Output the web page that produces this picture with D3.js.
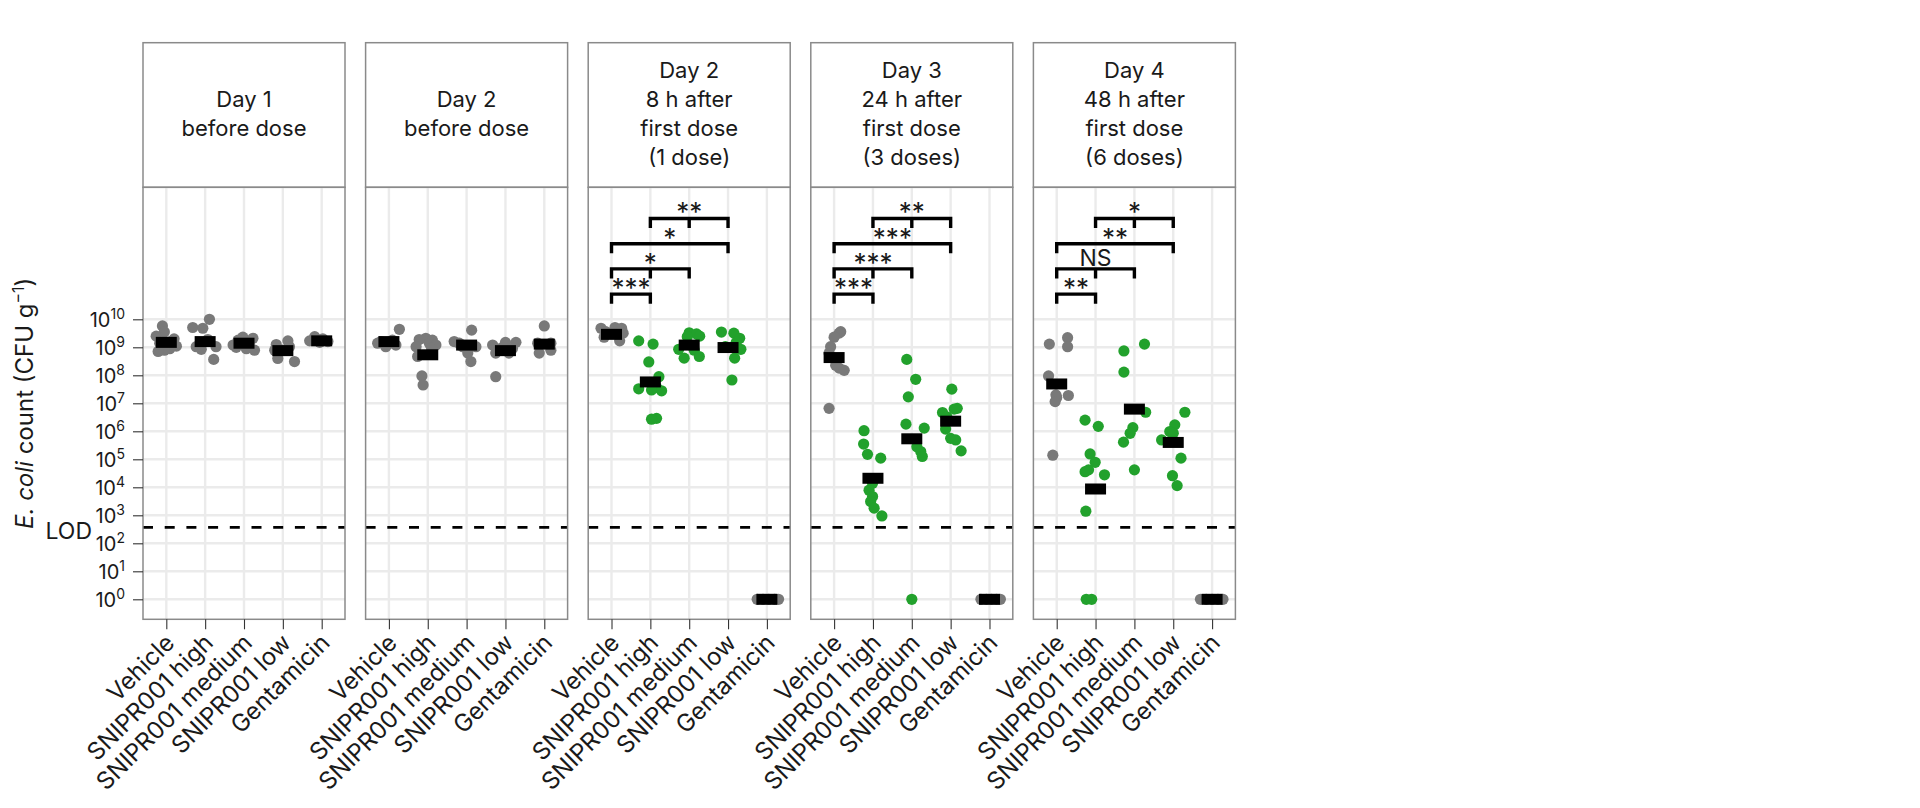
<!DOCTYPE html>
<html><head><meta charset="utf-8">
<script src="https://cdn.jsdelivr.net/npm/d3@7"></script>
<style>
body{margin:0;background:#fff}
svg{display:block}
text{font-family:Inter,"Noto Sans",sans-serif;fill:#1a1a1a}
</style>
</head><body>
<svg id="chart" width="1920" height="808"></svg>
<script>
// ---------------- DATA ----------------
const categories = ["Vehicle", "SNIPR001 high", "SNIPR001 medium", "SNIPR001 low", "Gentamicin"];
const panelTitles = [
  ["Day 1", "before dose"],
  ["Day 2", "before dose"],
  ["Day 2", "8 h after", "first dose", "(1 dose)"],
  ["Day 3", "24 h after", "first dose", "(3 doses)"],
  ["Day 4", "48 h after", "first dose", "(6 doses)"]
];
const treatedPanel = [false, false, true, true, true];
const treatedGroups = ["SNIPR001 high", "SNIPR001 medium", "SNIPR001 low"];
const yTickValues = [1, 1e1, 1e2, 1e3, 1e4, 1e5, 1e6, 1e7, 1e8, 1e9, 1e10];
const yTickExponents = ["0", "1", "2", "3", "4", "5", "6", "7", "8", "9", "10"];
const LOD = 370;

// CFU per g, one array per group (Vehicle, high, medium, low, Gentamicin)
const day1Values = [
  [5.8e9, 3.5e9, 2.5e9, 2.0e9, 1.6e9, 1.4e9, 1.1e9, 8.9e8, 7.9e8, 7.1e8],
  [1.0e10, 5.1e9, 4.8e9, 1.9e9, 1.05e9, 1.05e9, 8.5e8, 3.7e8],
  [2.3e9, 2.1e9, 1.8e9, 1.2e9, 1.05e9, 1.0e9, 8.9e8, 7.9e8],
  [1.7e9, 1.26e9, 1.05e9, 7.9e8, 7.9e8, 4.0e8, 3.1e8],
  [2.4e9, 2.0e9, 1.7e9, 1.6e9, 1.5e9]
];
const day1Jitter = [
  [-0.1, -0.05, -0.26, 0.2, 0.1, -0.17, 0.26, 0.09, -0.05, -0.21],
  [0.11, -0.32, -0.06, 0.07, -0.23, 0.28, -0.1, 0.22],
  [-0.03, 0.23, -0.15, -0.28, 0.13, -0.2, 0.06, 0.27],
  [0.13, -0.17, 0.17, 0, -0.21, -0.13, 0.3],
  [-0.18, 0.03, -0.31, 0.16, -0.05]
];
const day1Means = [1.5e9, 1.6e9, 1.4e9, 7.6e8, 1.7e9];

const day2PreValues = [
  [4.4e9, 1.8e9, 1.6e9, 1.4e9, 1.4e9, 1.2e9, 1.05e9],
  [2.1e9, 1.9e9, 1.8e9, 1.4e9, 1.2e9, 1.05e9, 9.1e8, 4.7e8, 9.5e7, 4.5e7],
  [4.1e9, 1.6e9, 1.4e9, 1.05e9, 1.05e9, 6.2e8, 3.1e8],
  [1.5e9, 1.5e9, 1.2e9, 9.1e8, 9.1e8, 6.2e8, 6.2e8, 8.9e7],
  [5.8e9, 1.4e9, 1.4e9, 7.9e8, 6.2e8]
];
const day2PreJitter = [
  [0.27, 0.09, -0.2, 0.01, -0.29, 0.18, -0.08],
  [-0.05, -0.22, 0.12, 0.04, 0.21, -0.3, 0.1, -0.26, -0.15, -0.12],
  [0.13, -0.32, -0.19, -0.1, 0.24, 0.03, 0.11],
  [0, 0.27, -0.33, -0.12, 0.18, 0.09, -0.25, -0.25],
  [0, -0.17, 0.17, 0.17, -0.13]
];
const day2PreMeans = [1.6e9, 5.4e8, 1.2e9, 7.6e8, 1.3e9];

const day2H8Values = [
  [5.1e9, 4.8e9, 4.8e9, 3.6e9, 3.2e9, 3.2e9, 2.3e9, 1.7e9],
  [1.7e9, 1.3e9, 3.0e8, 8.9e7, 3.7e7, 3.3e7, 3.0e7, 2.8e7, 2.9e6, 2.7e6],
  [3.3e9, 3.0e9, 2.5e9, 2.4e9, 8.5e8, 7.9e8, 4.7e8, 4.1e8],
  [3.5e9, 3.2e9, 2.1e9, 1.5e9, 1.05e9, 8.5e8, 4.1e8, 6.8e7],
  [1, 1, 1, 1, 1]
];
const day2H8Jitter = [
  [0.09, -0.27, 0.26, -0.15, 0.3, 0, -0.19, 0.21],
  [-0.3, 0.07, -0.04, 0.22, 0.16, -0.3, 0.03, 0.29, 0.16, 0.03],
  [0, 0.19, 0.27, -0.05, -0.27, 0.13, 0.26, -0.13],
  [-0.17, 0.15, 0.3, 0.21, -0.07, 0.33, 0.17, 0.1],
  [-0.25, -0.1, 0.05, 0.2, 0.3]
];
const day2H8Means = [2.9e9, 5.8e7, 1.2e9, 9.8e8, 1];

const day3Values = [
  [3.6e9, 3.2e9, 2.3e9, 1.05e9, 6.2e8, 2.3e8, 1.8e8, 1.5e8, 6.6e6],
  [1.05e6, 3.5e5, 1.5e5, 1.1e5, 1.4e4, 7.9e3, 4.7e3, 3.1e3, 1.8e3, 9.5e2],
  [3.7e8, 7.2e7, 1.7e7, 1.8e6, 1.3e6, 2.8e5, 1.9e5, 1.26e5, 1],
  [3.2e7, 6.6e6, 6.2e6, 4.7e6, 3.3e6, 1.2e6, 5.6e5, 4.9e5, 2.0e5],
  [1, 1, 1, 1, 1]
];
const day3Jitter = [
  [0.17, 0.13, 0, -0.09, -0.13, 0.04, 0.13, 0.26, -0.13],
  [-0.23, -0.24, -0.14, 0.2, -0.01, -0.1, -0.01, -0.06, 0.03, 0.23],
  [-0.13, 0.1, -0.09, -0.15, 0.32, 0.13, 0.23, 0.27, 0],
  [0.03, 0.17, 0.09, -0.21, -0.1, -0.13, 0, 0.13, 0.27],
  [-0.22, -0.08, 0.05, 0.18, 0.28]
];
const day3Means = [4.3e8, 2.1e4, 5.4e5, 2.3e6, 1];

const day4Values = [
  [2.2e9, 1.3e9, 1.05e9, 9.5e7, 2.0e7, 1.9e7, 1.6e7, 1.15e7, 1.4e5],
  [2.5e6, 1.5e6, 1.55e5, 7.8e4, 4.2e4, 3.6e4, 2.8e4, 1.4e3, 1, 1],
  [1.3e9, 7.4e8, 1.3e8, 4.8e6, 1.35e6, 8.5e5, 4.1e5, 4.2e4],
  [4.8e6, 1.7e6, 9.8e5, 8.5e5, 4.9e5, 1.1e5, 2.6e4, 1.15e4],
  [1, 1, 1, 1, 1]
];
const day4Jitter = [
  [0.28, -0.19, 0.28, -0.21, -0.02, 0.3, 0, -0.04, -0.1],
  [-0.27, 0.07, -0.14, -0.01, -0.18, -0.27, 0.23, -0.25, -0.24, -0.1],
  [0.26, -0.27, -0.27, 0.29, -0.04, -0.11, -0.28, 0],
  [0.3, 0.04, -0.09, 0, -0.3, 0.2, -0.02, 0.1],
  [-0.3, -0.15, 0, 0.15, 0.28]
];
const day4Means = [4.9e7, 8.7e3, 6.2e6, 4.0e5, 1];

// significance brackets (panels 3-5)
const comparisons = [
  ["Vehicle", "SNIPR001 high"],
  ["Vehicle", "SNIPR001 medium"],
  ["Vehicle", "SNIPR001 low"],
  ["SNIPR001 high", "SNIPR001 low"]
];
const bracketLevels = [7.9e10, 6.3e11, 5.0e12, 4.0e13];
const sigDay2H8 = ["***", "*", "*", "**"];
const sigDay3 = ["***", "***", "***", "**"];
const sigDay4 = ["**", "NS", "**", "*"];

const panelValues = [day1Values, day2PreValues, day2H8Values, day3Values, day4Values];
const panelJitter = [day1Jitter, day2PreJitter, day2H8Jitter, day3Jitter, day4Jitter];
const panelMeans = [day1Means, day2PreMeans, day2H8Means, day3Means, day4Means];
const panelSig = [null, null, sigDay2H8, sigDay3, sigDay4];

// ---------------- LAYOUT ----------------
const GREY = "#797979", GREEN = "#22a12c", GRID = "#ebebeb", BORDER = "#8a8a8a";
const panelLeft0 = 143, panelW = 202, panelStep = 222.6;
const stripTop = 42.7, plotTop = 187.3, plotBottom = 619.3;

const svg = d3.select("#chart");
svg.append("rect").attr("width", 1920).attr("height", 808).attr("fill", "#fff");

const y = d3.scaleLog().domain([1, 1e10]).range([599.3, 319.3]);
const x = d3.scalePoint().domain(categories).range([0, panelW]).padding(0.6);
const step = x.step();

panelTitles.forEach((title, pi) => {
  const g = svg.append("g").attr("transform", `translate(${panelLeft0 + pi * panelStep},0)`);

  // strip
  g.append("rect").attr("x", 0).attr("y", stripTop).attr("width", panelW).attr("height", plotTop - stripTop)
    .attr("fill", "#fff").attr("stroke", BORDER).attr("stroke-width", 1.5);
  const cy = (stripTop + plotTop) / 2 + 6;
  const st = g.append("text").attr("text-anchor", "middle").style("font-size", "22px");
  title.forEach((line, li) => {
    st.append("tspan").attr("x", panelW / 2)
      .attr("y", cy + (li - (title.length - 1) / 2) * 29).text(line);
  });

  // grid
  const grid = g.append("g");
  grid.selectAll("line.h").data(yTickValues).join("line")
    .attr("x1", 0).attr("x2", panelW).attr("y1", d => y(d)).attr("y2", d => y(d))
    .attr("stroke", GRID).attr("stroke-width", 2.4);
  grid.selectAll("line.v").data(categories).join("line")
    .attr("x1", d => x(d)).attr("x2", d => x(d)).attr("y1", plotTop).attr("y2", plotBottom)
    .attr("stroke", GRID).attr("stroke-width", 2.4);

  // LOD
  g.append("line").attr("x1", 0).attr("x2", panelW).attr("y1", y(LOD)).attr("y2", y(LOD))
    .attr("stroke", "#000").attr("stroke-width", 2.6).attr("stroke-dasharray", "10,11.7");

  // points
  const vals = panelValues[pi], jit = panelJitter[pi];
  categories.forEach((cat, ci) => {
    const col = (treatedPanel[pi] && treatedGroups.includes(cat)) ? GREEN : GREY;
    g.append("g").selectAll("circle").data(vals[ci]).join("circle")
      .attr("cx", (d, k) => x(cat) + jit[ci][k] * step)
      .attr("cy", d => y(d)).attr("r", 5.6).attr("fill", col);
  });
  // means
  g.append("g").selectAll("rect").data(panelMeans[pi]).join("rect")
    .attr("x", (d, ci) => x(categories[ci]) - 10.5).attr("y", d => y(d) - 5.5)
    .attr("width", 21).attr("height", 11).attr("fill", "#000");

  // brackets
  const sig = panelSig[pi];
  if (sig) {
    const tip = 9.5;
    comparisons.forEach((cmp, k) => {
      const x1 = x(cmp[0]), x2 = x(cmp[1]), yb = y(bracketLevels[k]);
      let dpath = `M${x1},${yb + tip}V${yb}H${x2}V${yb + tip}`;
      const i1 = categories.indexOf(cmp[0]), i2 = categories.indexOf(cmp[1]);
      if (i2 - i1 === 2) {
        const xm = x(categories[i1 + 1]);
        dpath += `M${xm},${yb}V${yb + tip}`;
      }
      g.append("path").attr("d", dpath).attr("fill", "none").attr("stroke", "#000")
        .attr("stroke-width", 3.4).attr("stroke-linejoin", "miter");
      const isNS = sig[k] === "NS";
      g.append("text").attr("text-anchor", "middle").attr("x", (x1 + x2) / 2)
        .attr("y", isNS ? yb - 3 : yb + 3)
        .style("font-size", isNS ? "23px" : "26px")
        .text(sig[k]);
    });
  }

  // panel border
  g.append("rect").attr("x", 0).attr("y", plotTop).attr("width", panelW).attr("height", plotBottom - plotTop)
    .attr("fill", "none").attr("stroke", BORDER).attr("stroke-width", 1.5);

  // x axis
  const xa = g.append("g").attr("transform", `translate(0,${plotBottom})`)
    .call(d3.axisBottom(x).tickSize(10).tickSizeOuter(0));
  xa.select(".domain").remove();
  xa.selectAll("line").attr("stroke", "#333").attr("stroke-width", 1.1);
  xa.selectAll("text").attr("x", 0).attr("y", 0).attr("dy", null)
    .attr("text-anchor", "end").attr("transform", "translate(9,25) rotate(-45)")
    .style("font-size", "24px").style("font-family", "Inter, sans-serif").attr("fill", "#1a1a1a");

  // y axis on first panel
  if (pi === 0) {
    const ya = g.append("g").call(d3.axisLeft(y).tickValues(yTickValues).tickSize(10).tickSizeOuter(0));
    ya.select(".domain").remove();
    ya.selectAll("line").attr("stroke", "#333").attr("stroke-width", 1.1);
    ya.selectAll("text").each(function (d, i) {
      const t = d3.select(this);
      t.text(null).attr("x", -18).attr("y", 7).attr("dy", null).attr("text-anchor", "end")
        .style("font-family", "Inter, sans-serif").attr("fill", "#1a1a1a");
      t.append("tspan").style("font-size", "20px").text("10");
      t.append("tspan").style("font-size", "14px").attr("dy", -7.5).text(yTickExponents[i]);
    });
    g.append("text").attr("x", -51).attr("y", y(LOD) + 12).attr("text-anchor", "end")
      .style("font-size", "23px").text("LOD");
  }
});

// y axis title
const yt = svg.append("text").attr("transform", `translate(33,${(plotTop + plotBottom) / 2}) rotate(-90)`)
  .attr("text-anchor", "middle").style("font-size", "24px");
yt.append("tspan").style("font-style", "italic").text("E. coli");
yt.append("tspan").text(" count (CFU g");
yt.append("tspan").style("font-size", "16px").attr("dy", -9).text("\u22121");
yt.append("tspan").attr("dy", 9).text(")");
</script>
</body></html>
